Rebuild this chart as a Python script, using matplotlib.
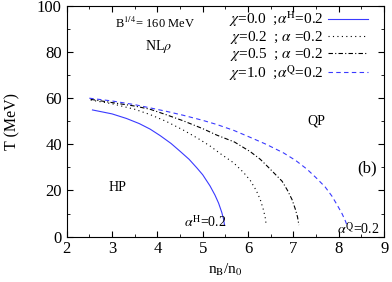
import matplotlib
matplotlib.use("Agg")
import matplotlib.pyplot as plt
from matplotlib.ticker import MultipleLocator

plt.rcParams['font.family'] = ['Liberation Serif', 'DejaVu Serif']
plt.rcParams['mathtext.fontset'] = 'stix'

# chi = 0.0 ; alpha^H = 0.2
n_chi00 = [2.57, 3.0, 3.32, 3.6, 3.84, 4.06, 4.3, 4.5, 4.7, 4.87, 5.0, 5.16, 5.27, 5.35, 5.42, 5.46, 5.48]
T_chi00 = [54.9, 53.2, 51.2, 49.0, 46.6, 43.8, 40.4, 37.0, 33.5, 29.8, 26.8, 22.0, 18.0, 14.5, 10.5, 7.5, 5.0]
# chi = 0.2 ; alpha = 0.2
n_chi02 = [2.53, 3.0, 3.5, 3.84, 4.2, 4.57, 4.9, 5.16, 5.4, 5.68, 5.9, 6.05, 6.18, 6.27, 6.34, 6.38, 6.40]
T_chi02 = [59.2, 57.6, 55.2, 52.9, 49.9, 46.2, 42.5, 39.3, 35.8, 32.0, 27.8, 24.3, 20.0, 16.0, 11.5, 8.0, 5.0]
# chi = 0.5 ; alpha = 0.2
n_chi05 = [2.53, 3.0, 3.5, 3.84, 4.2, 4.57, 5.0, 5.31, 5.7, 6.05, 6.27, 6.45, 6.6, 6.75, 6.87, 6.97, 7.04, 7.09, 7.12]
T_chi05 = [59.5, 58.1, 56.6, 55.2, 52.8, 50.2, 46.8, 44.0, 41.0, 36.8, 33.5, 30.0, 27.0, 24.0, 20.0, 16.0, 12.0, 8.5, 5.0]
# chi = 1.0 ; alpha^Q = 0.2
n_chi10 = [2.5, 3.0, 3.5, 3.84, 4.2, 4.57, 5.0, 5.31, 5.69, 6.05, 6.4, 6.78, 7.05, 7.3, 7.5, 7.7, 7.85, 7.97, 8.07, 8.14, 8.18]
T_chi10 = [60.0, 58.8, 57.2, 55.8, 54.3, 52.6, 50.4, 48.6, 46.0, 43.0, 40.0, 36.3, 33.0, 29.2, 25.5, 21.5, 17.5, 13.5, 10.0, 7.0, 5.0]

labels = [r'$\chi$=0.0  ;$\alpha^{\rm H}$=0.2',
          r'$\chi$=0.2  ; $\alpha$ =0.2',
          r'$\chi$=0.5  ; $\alpha$ =0.2',
          r'$\chi$=1.0  ;$\alpha^{\rm Q}$=0.2']

fig = plt.figure(figsize=(3.92, 2.82), dpi=100)
ax = fig.add_axes([0.170, 0.161, 0.810, 0.818])

blue = '#3a3aff'
l1, = ax.plot(n_chi00, T_chi00, color=blue, lw=0.8, ls='-')
l2, = ax.plot(n_chi02, T_chi02, color='black', lw=0.8, ls=(0, (1, 3)))
l3, = ax.plot(n_chi05, T_chi05, color='black', lw=0.8, ls=(0, (4, 2, 1, 2)))
l4, = ax.plot(n_chi10, T_chi10, color=blue, lw=0.8, ls=(0, (4, 3)))

ax.set_xlim(2, 9)
ax.set_ylim(0, 100)
ax.xaxis.set_major_locator(MultipleLocator(1))
ax.xaxis.set_minor_locator(MultipleLocator(0.5))
ax.yaxis.set_major_locator(MultipleLocator(20))
ax.yaxis.set_minor_locator(MultipleLocator(10))
ax.tick_params(which='both', direction='in', top=True, right=True, labelsize=12)
ax.tick_params(which='major', length=4)
ax.tick_params(which='minor', length=2.5)

ax.set_xlabel(r'n$_{\rm B}$/n$_0$', fontsize=11, labelpad=3)
ax.set_ylabel('T (MeV)', fontsize=11.5, labelpad=12)

leg = ax.legend([l1, l2, l3, l4], labels, loc='upper right', frameon=False,
                markerfirst=False, fontsize=11, handlelength=2.6,
                handletextpad=0.3, labelspacing=0.0, borderaxespad=0.0,
                borderpad=0.15, bbox_to_anchor=(0.955, 0.995))

ax.text(3.95, 92.5, r'B$^{1/4}$= 160 MeV', fontsize=9, ha='center', va='center')
ax.text(4.02, 82.5, r'NL$\rho$', fontsize=10, ha='center', va='center')
ax.text(7.5, 49.9, 'QP', fontsize=10, ha='center', va='center')
ax.text(8.63, 29.4, '(b)', fontsize=12, ha='center', va='center')
ax.text(3.12, 21.4, 'HP', fontsize=10, ha='center', va='center')
ax.text(5.52, 4.3, r'$\alpha^{\rm H}$=0.2', fontsize=10, ha='right', va='baseline')
ax.text(8.9, 1.3, r'$\alpha^{\rm Q}$=0.2', fontsize=10, ha='right', va='baseline')

fig.savefig('out.png', dpi=100)
